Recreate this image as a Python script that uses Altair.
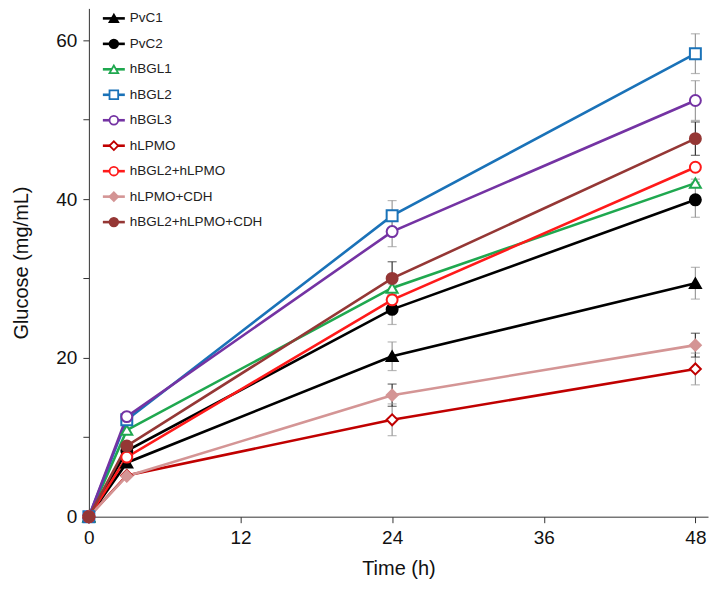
import altair as alt
import pandas as pd

times = [0, 3, 24, 48]
names = ["PvC1", "PvC2", "hBGL1", "hBGL2", "hBGL3", "hLPMO",
         "hBGL2+hLPMO", "hLPMO+CDH", "hBGL2+hLPMO+CDH"]
values = {
    "PvC1": [0, 6.8, 20.2, 29.4],
    "PvC2": [0, 8.3, 26.1, 39.9],
    "hBGL1": [0, 10.9, 28.8, 42.0],
    "hBGL2": [0, 12.2, 37.9, 58.3],
    "hBGL3": [0, 12.6, 35.9, 52.4],
    "hLPMO": [0, 5.2, 12.2, 18.6],
    "hBGL2+hLPMO": [0, 7.5, 27.3, 44.0],
    "hLPMO+CDH": [0, 5.1, 15.3, 21.6],
    "hBGL2+hLPMO+CDH": [0, 8.9, 30.0, 47.6],
}
errors = {
    "PvC1": [0, 0, 1.8, 2.0],
    "PvC2": [0, 0, 1.9, 2.2],
    "hBGL1": [0, 0, 0.5, 0.5],
    "hBGL2": [0, 0, 1.9, 2.5],
    "hBGL3": [0, 0, 1.9, 2.5],
    "hLPMO": [0, 0, 2.0, 2.0],
    "hBGL2+hLPMO": [0, 0, 0.5, 0.5],
    "hLPMO+CDH": [0, 0, 1.4, 1.5],
    "hBGL2+hLPMO+CDH": [0, 0, 2.1, 2.1],
}
strokes = ["#000000", "#000000", "#1fa84f", "#1a72b8", "#7433a3", "#c00000",
           "#ff1a1a", "#d49595", "#953735"]
fills = ["#000000", "#000000", "#ffffff", "#ffffff", "#ffffff", "#ffffff",
         "#ffffff", "#d49595", "#953735"]
shapes = ["triangle-up", "circle", "triangle-up", "square", "circle", "diamond",
          "circle", "diamond", "circle"]
err_colors = ["#9a9a9a", "#9a9a9a", "#9a9a9a", "#9a9a9a", "#9a9a9a", "#9a9a9a",
              "#9a9a9a", "#333333", "#333333"]

rows = []
for i, n in enumerate(names):
    for t, v, e in zip(times, values[n], errors[n]):
        rows.append({"name": n, "order": i, "time": t, "glucose": v,
                     "lo": v - e, "hi": v + e, "has_err": e > 0})
df = pd.DataFrame(rows)
leg = pd.DataFrame({"name": names, "order": list(range(len(names)))})

font = "Liberation Sans"
xs = alt.Scale(domain=[0, 49], nice=False)
ys = alt.Scale(domain=[0, 64], nice=False)
stroke_s = alt.Scale(domain=names, range=strokes)
fill_s = alt.Scale(domain=names, range=fills)
shape_s = alt.Scale(domain=names, range=shapes)
err_s = alt.Scale(domain=names, range=err_colors)

X = alt.X("time:Q", scale=xs, title="Time (h)",
          axis=alt.Axis(values=[0, 12, 24, 36, 48], grid=False, domainColor="#333",
                        tickColor="#333", tickSize=6, labelFontSize=19,
                        labelColor="#111", titleFontSize=20, titleColor="#111",
                        titleFontWeight="normal", labelPadding=6, titlePadding=11,
                        labelFlush=False, labelFont=font, titleFont=font))
Y = alt.Y("glucose:Q", scale=ys, title="Glucose (mg/mL)",
          axis=alt.Axis(values=[0, 10, 20, 30, 40, 50, 60], grid=False,
                        labelExpr="datum.value % 20 == 0 ? datum.label : ''",
                        domainColor="#333", tickColor="#333", tickSize=6,
                        labelFontSize=19, labelColor="#111", titleFontSize=20,
                        titleColor="#111", titleFontWeight="normal",
                        labelPadding=6, titlePadding=24, labelFlush=False,
                        labelFont=font, titleFont=font))

errd = alt.Chart(df).transform_filter("datum.has_err")
err_rule = errd.mark_rule(strokeWidth=1.2).encode(
    x=alt.X("time:Q", scale=xs), y=alt.Y("lo:Q", scale=ys), y2="hi:Q",
    color=alt.Color("name:N", scale=err_s, legend=None))
cap_lo = errd.mark_tick(size=9, thickness=1.2, orient="horizontal").encode(
    x=alt.X("time:Q", scale=xs), y=alt.Y("lo:Q", scale=ys),
    color=alt.Color("name:N", scale=err_s, legend=None))
cap_hi = errd.mark_tick(size=9, thickness=1.2, orient="horizontal").encode(
    x=alt.X("time:Q", scale=xs), y=alt.Y("hi:Q", scale=ys),
    color=alt.Color("name:N", scale=err_s, legend=None))

lines = alt.Chart(df).mark_line(strokeWidth=2.6).encode(
    x=X, y=Y,
    stroke=alt.Stroke("name:N", scale=stroke_s, legend=None),
    detail="name:N",
    order=alt.Order("time:Q"))
points = alt.Chart(df).mark_point(filled=True, size=120, strokeWidth=2, opacity=1).encode(
    x=alt.X("time:Q", scale=xs), y=alt.Y("glucose:Q", scale=ys),
    stroke=alt.Stroke("name:N", scale=stroke_s, legend=None),
    fill=alt.Fill("name:N", scale=fill_s, legend=None),
    shape=alt.Shape("name:N", scale=shape_s, legend=None),
    order=alt.Order("order:Q"))

LY = alt.Y("name:N", scale=alt.Scale(domain=names, range=[10, 214], type="point", padding=0),
           axis=None)
leg_line = alt.Chart(leg).mark_rule(strokeWidth=2.6).encode(
    x=alt.value(14), x2=alt.value(36), y=LY,
    stroke=alt.Stroke("name:N", scale=stroke_s, legend=None))
leg_pt = alt.Chart(leg).mark_point(filled=True, size=75, strokeWidth=1.8, opacity=1).encode(
    x=alt.value(25), y=LY,
    stroke=alt.Stroke("name:N", scale=stroke_s, legend=None),
    fill=alt.Fill("name:N", scale=fill_s, legend=None),
    shape=alt.Shape("name:N", scale=shape_s, legend=None))
leg_txt = alt.Chart(leg).mark_text(align="left", baseline="middle", fontSize=13.5,
                                   font=font, color="#222").encode(
    x=alt.value(41), y=LY, text="name:N")

main = alt.layer(err_rule, cap_lo, cap_hi, lines, points)
legend = alt.layer(leg_line, leg_pt, leg_txt)

chart = alt.layer(main, legend).resolve_scale(y="independent").properties(
    width=620, height=509,
    autosize=alt.AutoSizeParams(type="none"),
    padding={"left": 81, "top": 0, "right": 6, "bottom": 64},
).configure_view(stroke=None)

chart.save("out.html", embed_options={"renderer": "svg", "actions": False})
